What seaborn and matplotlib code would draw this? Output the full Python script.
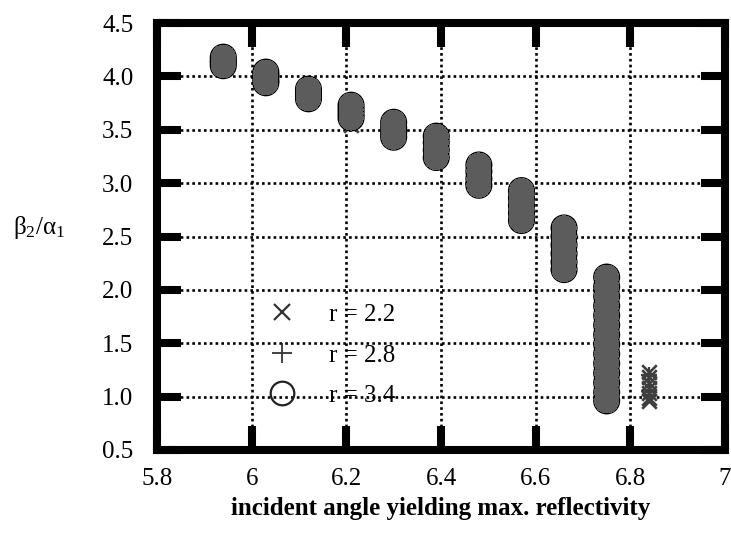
import matplotlib
matplotlib.use('Agg')
import matplotlib.pyplot as plt
import seaborn as sns
import pandas as pd
from matplotlib.lines import Line2D

# ---- data ----
group_x = [5.94, 6.03, 6.12, 6.21, 6.30, 6.39, 6.48, 6.57, 6.66, 6.75, 6.84]

# r = 3.4 (open circles)
r34_y = [
    [4.18, 4.15, 4.13, 4.10],
    [4.04, 4.01, 3.97, 3.94],
    [3.88, 3.85, 3.82, 3.79],
    [3.73, 3.69, 3.65, 3.61],
    [3.57, 3.52, 3.47, 3.43],
    [3.44, 3.38, 3.31, 3.24],
    [3.17, 3.11, 3.04, 2.98],
    [2.93, 2.86, 2.79, 2.72, 2.65],
    [2.58, 2.50, 2.42, 2.34, 2.26, 2.19],
    [2.12, 2.03, 1.94, 1.85, 1.76, 1.67, 1.58, 1.49, 1.40, 1.31, 1.22, 1.13, 1.04, 0.96],
    [],
]
# r = 2.8 (plus)
r28_y = [
    [4.17, 4.12], [4.02, 3.95], [3.86, 3.80], [3.70, 3.62], [3.55, 3.45],
    [3.40, 3.26], [3.14, 3.00], [2.90, 2.68], [2.55, 2.22],
    [2.08, 1.70, 1.30, 1.00], [1.20, 1.05],
]
# r = 2.2 (cross)
r22_y = [
    [4.16, 4.11], [4.00, 3.95], [3.84, 3.80], [3.66, 3.54], [3.50, 3.44],
    [3.35, 3.25], [3.09, 3.00], [2.83, 2.67], [2.45, 2.21],
    [1.90, 1.50, 1.10, 0.98], [1.23, 1.18, 1.13, 1.08, 1.03, 0.99, 0.96],
]
series_labels = ['r = 2.2', 'r = 2.8', 'r = 3.4']

x_ticks = [5.8, 6.0, 6.2, 6.4, 6.6, 6.8, 7.0]
x_tick_labels = ['5.8', '6', '6.2', '6.4', '6.6', '6.8', '7']
y_ticks = [0.5, 1.0, 1.5, 2.0, 2.5, 3.0, 3.5, 4.0, 4.5]
y_tick_labels = ['0.5', '1.0', '1.5', '2.0', '2.5', '3.0', '3.5', '4.0', '4.5']


def to_frame(series_y, label):
    rows = []
    for gx, ys in zip(group_x, series_y):
        for y in ys:
            rows.append({'x': gx, 'y': y, 'series': label})
    return pd.DataFrame(rows)


df22 = to_frame(r22_y, series_labels[0])
df28 = to_frame(r28_y, series_labels[1])
df34 = to_frame(r34_y, series_labels[2])

# ---- style ----
sns.set_style('white')
plt.rcParams['font.family'] = ['Liberation Serif', 'DejaVu Serif']
plt.rcParams['mathtext.fontset'] = 'custom'
plt.rcParams['mathtext.rm'] = 'Liberation Serif'
plt.rcParams['mathtext.it'] = 'Liberation Serif'
plt.rcParams['mathtext.bf'] = 'Liberation Serif:bold'
plt.rcParams['text.color'] = 'black'
plt.rcParams['axes.labelcolor'] = 'black'
plt.rcParams['xtick.color'] = 'black'
plt.rcParams['ytick.color'] = 'black'

fig = plt.figure(figsize=(7.31, 5.36), dpi=100)
ax = fig.add_axes([157 / 731, 86 / 536, 568 / 731, 427 / 536])

# cross and plus markers (underneath the circles)
sns.scatterplot(data=df22, x='x', y='y', marker='x', s=110, color='#3f3f3f',
                linewidth=1.9, ax=ax, legend=False, zorder=3)
sns.scatterplot(data=df28, x='x', y='y', marker='+', s=130, color='#3f3f3f',
                linewidth=1.6, ax=ax, legend=False, zorder=3)
# circles: black outline pass then grey fill pass
sns.scatterplot(data=df34, x='x', y='y', marker='o', s=380, color='black',
                edgecolor='none', linewidth=0, ax=ax, legend=False, zorder=4)
sns.scatterplot(data=df34, x='x', y='y', marker='o', s=300, color='#5c5c5c',
                edgecolor='none', linewidth=0, ax=ax, legend=False, zorder=5,
                antialiased=False)

ax.set_xlim(5.8, 7.0)
ax.set_ylim(0.5, 4.5)
ax.set_xticks(x_ticks)
ax.set_xticklabels(x_tick_labels)
ax.set_yticks(y_ticks)
ax.set_yticklabels(y_tick_labels)

ax.grid(True, color='black', linestyle=(0, (1, 1.2)), linewidth=1.9)
ax.set_axisbelow(True)

for s in ax.spines.values():
    s.set_linewidth(5.8)
    s.set_color('black')
    s.set_visible(True)

ax.tick_params(direction='in', length=17, width=5.8, bottom=True, left=True,
               top=True, right=True, labelsize=18, color='black',
               labelcolor='black')
ax.tick_params(axis='x', pad=13)
ax.tick_params(axis='y', pad=17)

ax.set_xlabel('incident angle yielding max. reflectivity', fontsize=18,
              fontweight='bold', labelpad=5)
ax.set_ylabel(r'$\beta_2/\alpha_1$', rotation=0, fontsize=18,
              ha='center', va='center')
ax.yaxis.set_label_coords(-0.207, 0.52)

handles = [
    Line2D([], [], marker='x', ls='none', color='#333333', markersize=11, mew=1.6),
    Line2D([], [], marker='+', ls='none', color='#333333', markersize=14, mew=1.3),
    Line2D([], [], marker='o', ls='none', mfc='none', mec='#222222', markersize=17, mew=1.6),
]
ax.legend(handles, series_labels, loc='upper left', bbox_to_anchor=(0.199, 0.343),
          frameon=False, fontsize=18, handlelength=0.95, handletextpad=1.4,
          labelspacing=0.72, borderpad=0, borderaxespad=0)

fig.savefig('out.png', dpi=100)
